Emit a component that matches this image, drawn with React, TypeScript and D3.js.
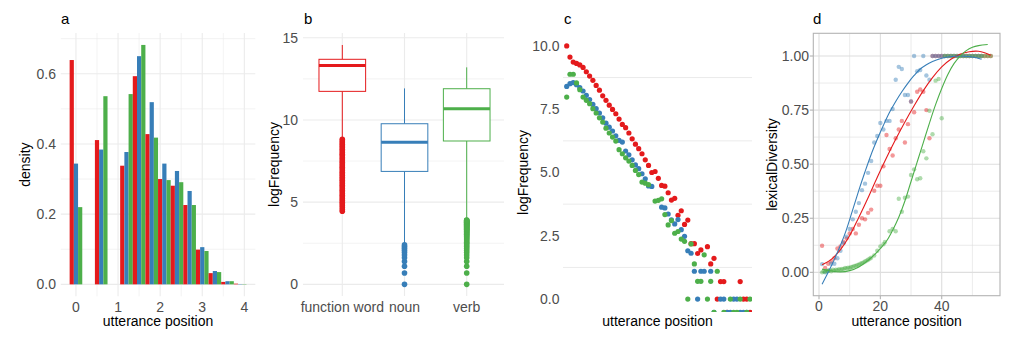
import React from 'react';
import * as d3 from 'd3';

const RED = '#E41A1C';
const BLUE = '#377EB8';
const GREEN = '#4DAF4A';
const FONT = '"Liberation Sans", Arial, Helvetica, sans-serif';
const TICK_COL = '#4D4D4D';
const GRID = '#EBEBEB';

// ---------- panel a: histogram of log utterance position ----------
const aBins = [0, 0.6, 1.2, 1.5, 1.8, 2.1, 2.4, 2.7, 3.0, 3.3, 3.6, 3.9];
const aRed = [0.639, 0.411, 0.338, 0.593, 0.428, 0.300, 0.281, 0.226, 0.099, 0.032, 0.007, 0.002];
const aBlue = [0.344, 0.384, 0.377, 0.650, 0.519, 0.344, 0.323, 0.266, 0.106, 0.038, 0.009, 0.001];
const aGreen = [0.220, 0.536, 0.542, 0.682, 0.418, 0.297, 0.291, 0.226, 0.095, 0.035, 0.009, 0.001];
const aXTicks = [0, 1, 2, 3, 4];
const aYTicks = [0, 0.2, 0.4, 0.6];

// ---------- panel b: boxplots ----------
const bCats = ['function word', 'noun', 'verb'];
const bLowWhisker = [8.9, 2.5, 3.95];
const bQ1 = [11.74, 6.87, 8.72];
const bMedian = [13.32, 8.64, 10.68];
const bQ3 = [13.69, 9.77, 11.9];
const bHighWhisker = [14.56, 11.92, 13.2];
const bOutFunction = [4.45, 4.55, 4.68, 4.8, 4.9, 5.0, 5.12, 5.22, 5.33, 5.42, 5.52, 5.63, 5.72, 5.83, 5.93, 6.03, 6.13, 6.23, 6.33, 6.42, 6.52, 6.63, 6.72, 6.82, 6.93, 7.03, 7.12, 7.22, 7.32, 7.43, 7.52, 7.62, 7.72, 7.83, 7.92, 8.02, 8.12, 8.22, 8.33, 8.42, 8.52, 8.62, 8.72, 8.82];
const bOutNoun = [0, 0.69, 1.1, 1.39, 1.61, 1.79, 1.95, 2.08, 2.2, 2.3, 2.4];
const bOutVerb = [0, 0.69, 1.1, 1.39, 1.61, 1.79, 1.95, 2.08, 2.2, 2.3, 2.4, 2.48, 2.56, 2.64, 2.71, 2.77, 2.83, 2.89, 2.94, 3.0, 3.04, 3.09, 3.14, 3.18, 3.22, 3.26, 3.3, 3.33, 3.37, 3.4, 3.43, 3.47, 3.5, 3.53, 3.56, 3.58, 3.61, 3.64, 3.66, 3.69, 3.71, 3.74, 3.76, 3.78, 3.81, 3.83, 3.85, 3.87, 3.89, 3.91];
const bYTicks = [0, 5, 10, 15];

// ---------- panel c: mean logFrequency by utterance position ----------
const cRed: [number, number][] = [[1, 10.0], [2, 9.56], [3, 9.36], [4, 9.31], [5, 9.25], [6, 9.15], [7, 8.98], [8, 8.81], [9, 8.64], [10, 8.44], [11, 8.25], [12, 8.03], [13, 7.85], [14, 7.66], [15, 7.49], [16, 7.32], [17, 7.11], [18, 6.9], [19, 6.77], [20, 6.56], [21, 6.33], [22, 6.12], [23, 5.94], [24, 5.74], [25, 5.5], [26, 5.28], [27, 5.0], [28, 5.04], [29, 4.77], [30, 4.49], [31, 4.46], [32, 4.2], [33, 3.91], [34, 3.98], [35, 3.31], [36, 3.49], [37, 2.95], [38, 3.12], [39, 2.19], [40, 2.19], [41, 1.8], [42, 1.94], [44, 2.07], [45, 1.39], [46, 1.61], [47, 0], [48, 0.69], [49, 0.69], [50, -0.52], [54, 0.69], [55, 0], [56, 0], [57, -0.52]];
const cBlue: [number, number][] = [[1, 8.4], [2, 8.51], [3, 8.55], [4, 8.47], [5, 8.35], [6, 8.22], [7, 8.05], [8, 7.88], [9, 7.69], [10, 7.52], [11, 7.35], [12, 7.16], [13, 6.95], [14, 6.79], [15, 6.64], [16, 6.45], [17, 6.27], [18, 6.2], [19, 5.85], [20, 5.7], [21, 5.5], [22, 5.3], [23, 5.15], [24, 4.95], [25, 4.75], [26, 4.47], [27, 4.45], [30, 3.63], [31, 3.6], [32, 3.36], [33, 3.13], [34, 2.97], [35, 3.14], [36, 2.74], [37, 2.48], [38, 1.91], [39, 1.81], [40, 1.1], [41, 0], [42, 1.1], [43, 1.1], [45, 1.1], [46, -0.52], [48, 0], [49, 0], [50, -0.52], [51, -0.52], [52, 0], [53, 0], [54, -0.52], [55, -0.52], [56, -0.52]];
const cGreen: [number, number][] = [[1, 7.98], [2, 8.88], [3, 8.88], [4, 8.54], [5, 8.27], [6, 7.98], [7, 7.85], [8, 7.72], [9, 7.52], [10, 7.35], [11, 7.16], [12, 6.99], [13, 6.75], [14, 6.56], [15, 6.4], [16, 6.24], [17, 5.9], [18, 5.74], [19, 5.58], [20, 5.45], [21, 5.28], [22, 5.08], [23, 4.92], [24, 4.62], [25, 4.58], [26, 4.52], [28, 3.87], [29, 3.9], [30, 3.96], [31, 3.34], [32, 2.93], [33, 3.1], [34, 2.6], [35, 2.67], [36, 2.37], [37, 2.28], [38, 0], [39, 2.18], [40, 1.39], [41, 0.7], [42, 0.7], [43, 1.75], [44, 0], [45, 0.7], [46, -0.52], [47, 1.1], [49, -0.52], [51, 0], [52, -0.52], [53, -0.52], [54, 0], [56, -0.52], [57, 0]];
const cYTicks = [0, 2.5, 5, 7.5, 10];
const cMinorY = [1.25, 3.75, 6.25, 8.75];

// ---------- panel d: lexical diversity ----------
const dRed: [number, number][] = [[1, 0.123], [2, 0.02], [3, 0.04], [4, 0.05], [5, 0.065], [6, 0.11], [7, 0.12], [8, 0.14], [9, 0.157], [10, 0.18], [11, 0.2], [12, 0.18], [13, 0.22], [14, 0.25], [15, 0.245], [16, 0.275], [17, 0.29], [18, 0.377], [19, 0.4], [20, 0.4], [21, 0.49], [22, 0.635], [23, 0.57], [24, 0.54], [25, 0.62], [26, 0.66], [27, 0.7], [28, 0.6], [29, 0.685], [30, 0.79], [31, 0.74], [32, 0.835], [33, 0.845], [34, 0.835], [35, 0.75], [36, 0.62], [37, 1], [38, 1], [39, 1], [40, 1], [41, 1], [42, 1], [43, 1], [44, 1], [45, 1], [46, 1], [47, 1], [48, 1], [49, 1], [50, 1], [51, 1], [52, 1], [53, 1], [54, 1], [55, 1], [56, 1]];
const dBlue: [number, number][] = [[1, 0.038], [2, 0.0], [3, 0.007], [4, 0.04], [5, 0.04], [6, 0.065], [7, 0.1], [8, 0.135], [9, 0.165], [10, 0.2], [11, 0.245], [12, 0.28], [13, 0.32], [14, 0.38], [15, 0.41], [16, 0.46], [17, 0.515], [18, 0.6], [19, 0.63], [20, 0.69], [21, 0.66], [22, 0.7], [23, 0.7], [24, 0.755], [25, 0.89], [26, 0.95], [27, 0.94], [28, 0.82], [29, 0.82], [30, 0.79], [31, 1], [32, 0.93], [33, 0.935], [34, 1], [35, 0.91], [36, 0.89], [37, 1], [38, 1], [39, 1], [40, 1], [41, 1], [42, 1], [43, 1], [44, 1], [45, 1], [46, 1], [47, 1], [48, 1], [49, 1], [50, 1], [51, 1], [52, 1], [53, 1]];
const dGreen: [number, number][] = [[1, 0.0], [1.5, 0.005], [2, 0.003], [2.5, 0.008], [3, 0.006], [3.5, 0.01], [4, 0.005], [4.5, 0.012], [5, 0.008], [5.5, 0.012], [6, 0.01], [6.5, 0.015], [7, 0.012], [7.5, 0.016], [8, 0.015], [8.5, 0.02], [9, 0.018], [9.5, 0.022], [10, 0.02], [10.5, 0.025], [11, 0.025], [11.5, 0.03], [12, 0.03], [12.5, 0.034], [13, 0.035], [13.5, 0.04], [14, 0.042], [14.5, 0.046], [15, 0.05], [15.5, 0.054], [16, 0.058], [16.5, 0.063], [17, 0.068], [18, 0.078], [19, 0.1], [20, 0.12], [21, 0.13], [21.5, 0.14], [23, 0.19], [24, 0.2], [25, 0.19], [26, 0.34], [27, 0.28], [28, 0.345], [29, 0.35], [30, 0.45], [31, 0.476], [32, 0.43], [33, 0.435], [34, 0.56], [35, 0.527], [36, 0.747], [37, 0.638], [38, 0.886], [39, 0.894], [40, 0.712], [41, 1], [42, 1], [43, 1], [44, 1], [45, 1], [46, 1], [47, 1], [48, 1], [49, 1], [50, 1], [51, 1], [52, 1], [53, 1], [54, 1], [55, 1], [56, 1]];
const dRedFit: [number, number][] = [[1, 0.035], [4, 0.06], [7, 0.105], [10, 0.17], [13, 0.255], [16, 0.345], [19, 0.44], [22, 0.53], [25, 0.615], [28, 0.695], [31, 0.77], [34, 0.84], [37, 0.9], [40, 0.95], [43, 0.985], [46, 1.008], [49, 1.02], [52, 1.022], [54, 1.015], [56, 1.003]];
const dBlueFit: [number, number][] = [[1, -0.055], [3, 0.0], [5, 0.06], [7, 0.125], [9, 0.2], [11, 0.29], [13, 0.38], [15, 0.465], [17, 0.545], [19, 0.615], [21, 0.68], [23, 0.74], [25, 0.79], [27, 0.835], [29, 0.875], [31, 0.91], [33, 0.94], [35, 0.96], [37, 0.975], [40, 0.99], [43, 0.998], [46, 1.0], [49, 0.998], [51, 0.993], [53, 0.985]];
const dGreenFit: [number, number][] = [[1, 0.015], [4, 0.006], [7, 0.002], [10, 0.008], [13, 0.025], [16, 0.055], [19, 0.095], [22, 0.145], [24, 0.195], [26, 0.255], [28, 0.33], [30, 0.42], [32, 0.51], [34, 0.6], [36, 0.69], [38, 0.775], [40, 0.85], [42, 0.915], [44, 0.965], [46, 1.0], [48, 1.025], [50, 1.04], [52, 1.048], [55, 1.053]];
const dXTicks = [0, 20, 40];
const dXMinor = [10, 30, 50];
const dYTicks = [0, 0.25, 0.5, 0.75, 1.0];
const dYMinor = [0.125, 0.375, 0.625, 0.875];

const txt = { fontFamily: FONT };

function PanelLabel({ x, label }: { x: number; label: string }) {
  return <text x={x} y={24} style={txt} fontSize={15} fill="#000">{label}</text>;
}

function YTitle({ x, y, label }: { x: number; y: number; label: string }) {
  return (
    <text transform={`translate(${x},${y}) rotate(-90)`} textAnchor="middle" dominantBaseline="central" style={txt} fontSize={14} fill="#000">{label}</text>
  );
}

function PanelA() {
  const x = d3.scaleLinear().domain([-0.36, 4.26]).range([60.8, 255.3]);
  const y = d3.scaleLinear().domain([-0.034, 0.716]).range([296.3, 33]);
  const [x0, x1] = x.range();
  const [yb, yt] = y.range();
  const series = [aRed, aBlue, aGreen];
  const cols = [RED, BLUE, GREEN];
  const bw = 0.3;
  return (
    <g>
      {[0.5, 1.5, 2.5, 3.5].map(v => <line key={'vm' + v} x1={x(v)} x2={x(v)} y1={yt} y2={yb} stroke={GRID} strokeWidth={0.6} />)}
      {[0.1, 0.3, 0.5, 0.7].map(v => <line key={'hm' + v} x1={x0} x2={x1} y1={y(v)} y2={y(v)} stroke={GRID} strokeWidth={0.6} />)}
      {aXTicks.map(v => <line key={'v' + v} x1={x(v)} x2={x(v)} y1={yt} y2={yb} stroke={GRID} strokeWidth={1.1} />)}
      {aYTicks.map(v => <line key={'h' + v} x1={x0} x2={x1} y1={y(v)} y2={y(v)} stroke={GRID} strokeWidth={1.1} />)}
      {aBins.map((b, i) => series.map((s, k) => {
        const left = b - bw / 2 + k * (bw / 3);
        return <rect key={i + '-' + k} x={x(left)} y={y(s[i])} width={x(left + bw / 3) - x(left)} height={y(0) - y(s[i])} fill={cols[k]} />;
      }))}
      {aXTicks.map(v => <text key={'xt' + v} x={x(v)} y={311.5} textAnchor="middle" style={txt} fontSize={14} fill={TICK_COL}>{v}</text>)}
      {aYTicks.map(v => <text key={'yt' + v} x={56} y={y(v)} dy="0.35em" textAnchor="end" style={txt} fontSize={14} fill={TICK_COL}>{v.toFixed(1)}</text>)}
      <text x={(x0 + x1) / 2} y={326} textAnchor="middle" style={txt} fontSize={14} fill="#000">utterance position</text>
      <YTitle x={25} y={(yt + yb) / 2} label="density" />
      <PanelLabel x={61} label="a" />
    </g>
  );
}

function PanelB() {
  const x = d3.scalePoint().domain(bCats).range([342.3, 466.7]);
  const y = d3.scaleLinear().domain([-0.71, 15.29]).range([296, 33]);
  const left = 303, right = 504;
  const [yb, yt] = y.range();
  const cols = [RED, BLUE, GREEN];
  const outs = [bOutFunction, bOutNoun, bOutVerb];
  const half = (0.75 * x.step()) / 2;
  return (
    <g>
      {[2.5, 7.5, 12.5].map(v => <line key={'hm' + v} x1={left} x2={right} y1={y(v)} y2={y(v)} stroke={GRID} strokeWidth={0.6} />)}
      {bYTicks.map(v => <line key={'h' + v} x1={left} x2={right} y1={y(v)} y2={y(v)} stroke={GRID} strokeWidth={1.1} />)}
      {bCats.map(c => <line key={'v' + c} x1={x(c)} x2={x(c)} y1={yt} y2={yb} stroke={GRID} strokeWidth={1.1} />)}
      {bCats.map((c, i) => {
        const cx = x(c) as number;
        return (
          <g key={c}>
            <line x1={cx} x2={cx} y1={y(bQ3[i])} y2={y(bHighWhisker[i])} stroke={cols[i]} strokeWidth={1} />
            <line x1={cx} x2={cx} y1={y(bQ1[i])} y2={y(bLowWhisker[i])} stroke={cols[i]} strokeWidth={1} />
            <rect x={cx - half} y={y(bQ3[i])} width={2 * half} height={y(bQ1[i]) - y(bQ3[i])} fill="#fff" stroke={cols[i]} strokeWidth={1} />
            <line x1={cx - half} x2={cx + half} y1={y(bMedian[i])} y2={y(bMedian[i])} stroke={cols[i]} strokeWidth={3} />
            {outs[i].map((v, j) => <circle key={j} cx={cx} cy={y(v)} r={2.8} fill={cols[i]} />)}
          </g>
        );
      })}
      {bCats.map(c => <text key={'xt' + c} x={x(c)} y={311.5} textAnchor="middle" style={txt} fontSize={14} fill={TICK_COL}>{c}</text>)}
      {bYTicks.map(v => <text key={'yt' + v} x={298} y={y(v)} dy="0.35em" textAnchor="end" style={txt} fontSize={14} fill={TICK_COL}>{v}</text>)}
      <YTitle x={274} y={(yt + yb) / 2} label="logFrequency" />
      <PanelLabel x={304} label="b" />
    </g>
  );
}

function PanelC() {
  const x = d3.scaleLinear().domain([1, 57]).range([566.7, 750]);
  const y = d3.scaleLinear().domain([-0.51, 10.51]).range([312, 33]);
  const left = 563, right = 752;
  const [yb, yt] = y.range();
  const series = [cRed, cBlue, cGreen];
  const cols = [RED, BLUE, GREEN];
  return (
    <g>
      <defs>
        <clipPath id="clipC"><rect x={left} y={yt} width={right - left} height={yb - yt} /></clipPath>
      </defs>
      {cMinorY.map(v => <line key={'hm' + v} x1={left} x2={right} y1={y(v)} y2={y(v)} stroke={GRID} strokeWidth={1} />)}
      <g clipPath="url(#clipC)">
        {series.map((s, k) => s.map(([i, v], j) => <circle key={k + '-' + j} cx={x(i)} cy={y(v)} r={2.6} fill={cols[k]} />))}
      </g>
      {cYTicks.map(v => <text key={'yt' + v} x={559.5} y={y(v)} dy="0.35em" textAnchor="end" style={txt} fontSize={14} fill={TICK_COL}>{v.toFixed(1)}</text>)}
      <text x={(left + right) / 2} y={326} textAnchor="middle" style={txt} fontSize={14} fill="#000">utterance position</text>
      <YTitle x={523} y={(yt + yb) / 2} label="logFrequency" />
      <PanelLabel x={564} label="c" />
    </g>
  );
}

function PanelD() {
  const x = d3.scaleLinear().domain([-1.86, 59]).range([813.3, 1000]);
  const y = d3.scaleLinear().domain([-0.108, 1.105]).range([295.7, 33.3]);
  const [x0, x1] = x.range();
  const [yb, yt] = y.range();
  const series = [dRed, dBlue, dGreen];
  const fits = [dRedFit, dBlueFit, dGreenFit];
  const cols = [RED, BLUE, GREEN];
  const line = d3.line<[number, number]>().x(d => x(d[0])).y(d => y(d[1])).curve(d3.curveCatmullRom.alpha(0.5));
  const gcol = '#DEDEDE';
  return (
    <g>
      <defs>
        <clipPath id="clipD"><rect x={x0} y={yt} width={x1 - x0} height={yb - yt} /></clipPath>
      </defs>
      {dXMinor.map(v => <line key={'vm' + v} x1={x(v)} x2={x(v)} y1={yt} y2={yb} stroke={gcol} strokeWidth={0.6} />)}
      {dYMinor.map(v => <line key={'hm' + v} x1={x0} x2={x1} y1={y(v)} y2={y(v)} stroke={gcol} strokeWidth={0.6} />)}
      {dXTicks.map(v => <line key={'v' + v} x1={x(v)} x2={x(v)} y1={yt} y2={yb} stroke={gcol} strokeWidth={1.1} />)}
      {dYTicks.map(v => <line key={'h' + v} x1={x0} x2={x1} y1={y(v)} y2={y(v)} stroke={gcol} strokeWidth={1.1} />)}
      <g clipPath="url(#clipD)">
        {series.map((s, k) => s.map(([i, v], j) => <circle key={k + '-' + j} cx={x(i)} cy={y(v)} r={2.2} fill={cols[k]} fillOpacity={0.45} />))}
        {fits.map((f, k) => <path key={'f' + k} d={line(f) || ''} fill="none" stroke={cols[k]} strokeWidth={1.1} />)}
      </g>
      <rect x={x0} y={yt} width={x1 - x0} height={yb - yt} fill="none" stroke="#B3B3B3" strokeWidth={1.1} />
      {dXTicks.map(v => <line key={'xtk' + v} x1={x(v)} x2={x(v)} y1={yb} y2={yb + 3.5} stroke="#B3B3B3" strokeWidth={1.1} />)}
      {dYTicks.map(v => <line key={'ytk' + v} x1={x0 - 3.5} x2={x0} y1={y(v)} y2={y(v)} stroke="#B3B3B3" strokeWidth={1.1} />)}
      {dXTicks.map(v => <text key={'xt' + v} x={x(v)} y={311} textAnchor="middle" style={txt} fontSize={14} fill={TICK_COL}>{v}</text>)}
      {dYTicks.map(v => <text key={'yt' + v} x={809} y={y(v)} dy="0.35em" textAnchor="end" style={txt} fontSize={14} fill={TICK_COL}>{v.toFixed(2)}</text>)}
      <text x={(x0 + x1) / 2} y={326} textAnchor="middle" style={txt} fontSize={14} fill="#000">utterance position</text>
      <YTitle x={772} y={(yt + yb) / 2} label="lexicalDiversity" />
      <PanelLabel x={813} label="d" />
    </g>
  );
}

export default function App() {
  return (
    <svg width={1030} height={344} style={{ position: 'absolute', left: 0, top: 0, background: '#fff' }}>
      <rect x={0} y={0} width={1030} height={344} fill="#fff" />
      <PanelA />
      <PanelB />
      <PanelC />
      <PanelD />
    </svg>
  );
}
